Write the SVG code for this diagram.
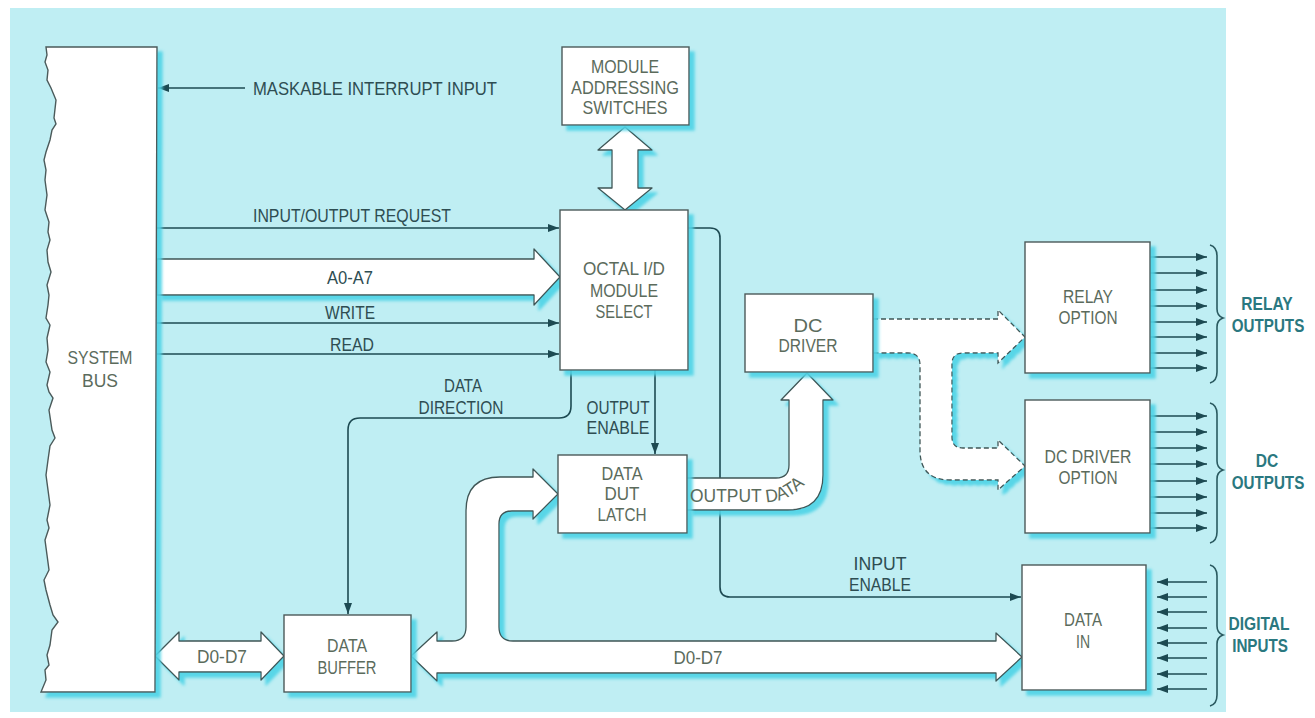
<svg xmlns="http://www.w3.org/2000/svg" width="1315" height="718" viewBox="0 0 1315 718">
<defs>
<style>
.box{fill:#fff;stroke:#4b5a5a;stroke-width:1.4}
.band{fill:#fff;stroke:#3f5656;stroke-width:1.3;stroke-linejoin:round}
.dash{fill:#fff;stroke:#3f5656;stroke-width:1.3;stroke-dasharray:5 3}
.ln{fill:none;stroke:#1d4a52;stroke-width:1.6}
.nt{font-family:"Liberation Sans",Arial,sans-serif;font-size:19px;fill:#5b6b5c;text-anchor:middle}
.ct{font-family:"Liberation Sans",Arial,sans-serif;font-size:19px;fill:#2e4d52;text-anchor:middle}
.rt{font-family:"Liberation Sans",Arial,sans-serif;font-size:19px;font-weight:bold;fill:#2a7880;text-anchor:middle}
.br{fill:none;stroke:#2a5a60;stroke-width:1.6}
</style>
<filter id="sh" x="-10%" y="-10%" width="130%" height="130%">
<feDropShadow dx="5" dy="5" stdDeviation="1.5" flood-color="#4dd3e6" flood-opacity="0.9"/>
</filter>
<marker id="ah" markerUnits="userSpaceOnUse" markerWidth="11" markerHeight="8" refX="11" refY="4" orient="auto">
<path d="M0,0 L11,4 L0,8 z" fill="#1d4a52"/>
</marker>
</defs>
<rect x="0" y="0" width="1315" height="718" fill="#ffffff"/>
<rect x="10" y="8" width="1216" height="704" fill="#bfeef3"/>

<g id="connectors">
<line class="ln" x1="245" y1="88" x2="158" y2="88" marker-end="url(#ah)"/>
<line class="ln" x1="157" y1="228" x2="559" y2="228" marker-end="url(#ah)"/>
<line class="ln" x1="157" y1="323" x2="559" y2="323" marker-end="url(#ah)"/>
<line class="ln" x1="157" y1="354" x2="559" y2="354" marker-end="url(#ah)"/>
<path class="ln" d="M688 228 L710 228 Q720 228 720 238 L720 587 Q720 597 730 597 L1021 597" marker-end="url(#ah)"/>
<path class="ln" d="M571 370 L571 406 Q571 418 559 418 L360 418 Q348 418 348 430 L348 614" marker-end="url(#ah)"/>
<line class="ln" x1="655" y1="370" x2="655" y2="454" marker-end="url(#ah)"/>
<g id="relay-outs">
<line class="ln" x1="1150" y1="257" x2="1207" y2="257" marker-end="url(#ah)"/>
<line class="ln" x1="1150" y1="273" x2="1207" y2="273" marker-end="url(#ah)"/>
<line class="ln" x1="1150" y1="290" x2="1207" y2="290" marker-end="url(#ah)"/>
<line class="ln" x1="1150" y1="306" x2="1207" y2="306" marker-end="url(#ah)"/>
<line class="ln" x1="1150" y1="322" x2="1207" y2="322" marker-end="url(#ah)"/>
<line class="ln" x1="1150" y1="337" x2="1207" y2="337" marker-end="url(#ah)"/>
<line class="ln" x1="1150" y1="353" x2="1207" y2="353" marker-end="url(#ah)"/>
<line class="ln" x1="1150" y1="368" x2="1207" y2="368" marker-end="url(#ah)"/>
</g>
<g id="dc-outs">
<line class="ln" x1="1150" y1="416" x2="1207" y2="416" marker-end="url(#ah)"/>
<line class="ln" x1="1150" y1="432" x2="1207" y2="432" marker-end="url(#ah)"/>
<line class="ln" x1="1150" y1="448" x2="1207" y2="448" marker-end="url(#ah)"/>
<line class="ln" x1="1150" y1="464" x2="1207" y2="464" marker-end="url(#ah)"/>
<line class="ln" x1="1150" y1="481" x2="1207" y2="481" marker-end="url(#ah)"/>
<line class="ln" x1="1150" y1="497" x2="1207" y2="497" marker-end="url(#ah)"/>
<line class="ln" x1="1150" y1="513" x2="1207" y2="513" marker-end="url(#ah)"/>
<line class="ln" x1="1150" y1="528" x2="1207" y2="528" marker-end="url(#ah)"/>
</g>
<g id="digital-ins">
<line class="ln" x1="1207" y1="582" x2="1157" y2="582" marker-end="url(#ah)"/>
<line class="ln" x1="1207" y1="597" x2="1157" y2="597" marker-end="url(#ah)"/>
<line class="ln" x1="1207" y1="612" x2="1157" y2="612" marker-end="url(#ah)"/>
<line class="ln" x1="1207" y1="628" x2="1157" y2="628" marker-end="url(#ah)"/>
<line class="ln" x1="1207" y1="643" x2="1157" y2="643" marker-end="url(#ah)"/>
<line class="ln" x1="1207" y1="658" x2="1157" y2="658" marker-end="url(#ah)"/>
<line class="ln" x1="1207" y1="674" x2="1157" y2="674" marker-end="url(#ah)"/>
<line class="ln" x1="1207" y1="689" x2="1157" y2="689" marker-end="url(#ah)"/>
</g>
<path class="br" d="M1210 245 Q1217 247 1217 256 L1217 309 Q1217 316 1223 318 Q1217 320 1217 327 L1217 372 Q1217 381 1210 383"/>
<path class="br" d="M1210 403 Q1217 405 1217 414 L1217 461 Q1217 468 1223 470 Q1217 472 1217 479 L1217 532 Q1217 541 1210 543"/>
<path class="br" d="M1210 565 Q1217 567 1217 576 L1217 626 Q1217 633 1223 635 Q1217 637 1217 644 L1217 695 Q1217 704 1210 706"/>

<g filter="url(#sh)">
<path class="band" d="M157 259 L534 259 L534 249 L560 277 L534 305 L534 295 L157 295 Z"/>
<path class="band" d="M625 127 L652 150 L638 150 L638 188 L652 188 L625 210 L598 188 L612 188 L612 150 L598 150 Z"/>
<path class="band" d="M155 656 L179 632 L179 641 L261 641 L261 632 L284 656 L261 680 L261 672 L179 672 L179 680 Z"/>
<path class="band" d="M411 656 L437 632 L437 641 L452 641 Q466 641 466 627 L466 511 Q466 477 500 477 L533 477 L533 469 L558 494 L533 519 L533 511 L512 511 Q499 511 499 524 L499 627 Q499 641 513 641 L996 641 L996 633 L1022 657 L996 681 L996 673 L437 673 L437 681 Z"/>
<path class="band" d="M687 478 L776 478 Q789 478 789 465 L789 400 L781 400 L807 373 L833 400 L823 400 L823 475 Q823 510 788 510 L687 510"/>
<path class="dash" d="M873 319 L998 319 L998 310 L1025 337 L998 363 L998 353 L963 353 Q952 353 952 364 L952 437 Q952 448 963 448 L998 448 L998 440 L1025 466 L998 490 L998 480 L950 480 Q920 480 920 450 L920 365 Q920 353 908 353 L873 353"/>
</g>
</g>

<g id="system-bus">
<path class="box" filter="url(#sh)" d="M46 47 L157 47 L155 692 L41 692 L46 680 L45 670 L49 665 L47 655 L50 645 L52 630 L58 622 L53 615 L50 605 L46 590 L44 580 L49 570 L47 555 L45 540 L49 528 L47 520 L50 505 L48 490 L46 475 L48 460 L50 446 L55 438 L52 430 L49 410 L53 398 L49 392 L47 385 L50 372 L46 362 L48 350 L47 338 L50 325 L46 318 L48 305 L49 295 L47 285 L51 272 L48 262 L47 250 L50 240 L48 232 L49 222 L45 210 L47 195 L45 180 L46 170 L44 160 L46 152 L50 140 L52 130 L56 124 L54 118 L56 100 L51 88 L47 80 L48 70 L45 62 L47 55 Z"/>
<text class="nt" x="100" y="364" textLength="65" lengthAdjust="spacingAndGlyphs">SYSTEM</text>
<text class="nt" x="100" y="387" textLength="36" lengthAdjust="spacingAndGlyphs">BUS</text>
</g>

<g id="module-addressing">
<rect class="box" filter="url(#sh)" x="562" y="47" width="127" height="78"/>
<text class="nt" x="625" y="73" textLength="68" lengthAdjust="spacingAndGlyphs">MODULE</text>
<text class="nt" x="625" y="94" textLength="108" lengthAdjust="spacingAndGlyphs">ADDRESSING</text>
<text class="nt" x="625" y="114" textLength="85" lengthAdjust="spacingAndGlyphs">SWITCHES</text>
</g>

<g id="octal-select">
<rect class="box" filter="url(#sh)" x="560" y="210" width="128" height="160"/>
<text class="nt" x="624" y="275" textLength="82" lengthAdjust="spacingAndGlyphs">OCTAL I/D</text>
<text class="nt" x="624" y="297" textLength="68" lengthAdjust="spacingAndGlyphs">MODULE</text>
<text class="nt" x="624" y="318" textLength="57" lengthAdjust="spacingAndGlyphs">SELECT</text>
</g>

<g id="data-out-latch">
<rect class="box" filter="url(#sh)" x="558" y="455" width="129" height="78"/>
<text class="nt" x="622" y="480" textLength="41" lengthAdjust="spacingAndGlyphs">DATA</text>
<text class="nt" x="622" y="500" textLength="35" lengthAdjust="spacingAndGlyphs">DUT</text>
<text class="nt" x="622" y="521" textLength="49" lengthAdjust="spacingAndGlyphs">LATCH</text>
</g>

<g id="dc-driver">
<rect class="box" filter="url(#sh)" x="745" y="294" width="128" height="78"/>
<text class="nt" x="808" y="332" textLength="29" lengthAdjust="spacingAndGlyphs">DC</text>
<text class="nt" x="808" y="352" textLength="59" lengthAdjust="spacingAndGlyphs">DRIVER</text>
</g>

<g id="relay-option">
<rect class="box" filter="url(#sh)" x="1025" y="242" width="125" height="131"/>
<text class="nt" x="1088" y="303" textLength="50" lengthAdjust="spacingAndGlyphs">RELAY</text>
<text class="nt" x="1088" y="324" textLength="59" lengthAdjust="spacingAndGlyphs">OPTION</text>
</g>

<g id="dc-driver-option">
<rect class="box" filter="url(#sh)" x="1025" y="400" width="125" height="133"/>
<text class="nt" x="1088" y="463" textLength="87" lengthAdjust="spacingAndGlyphs">DC DRIVER</text>
<text class="nt" x="1088" y="484" textLength="59" lengthAdjust="spacingAndGlyphs">OPTION</text>
</g>

<g id="data-in">
<rect class="box" filter="url(#sh)" x="1022" y="565" width="124" height="125"/>
<text class="nt" x="1083" y="626" textLength="38" lengthAdjust="spacingAndGlyphs">DATA</text>
<text class="nt" x="1083" y="648" textLength="14" lengthAdjust="spacingAndGlyphs">IN</text>
</g>

<g id="data-buffer">
<rect class="box" filter="url(#sh)" x="284" y="615" width="127" height="77"/>
<text class="nt" x="347" y="652" textLength="40" lengthAdjust="spacingAndGlyphs">DATA</text>
<text class="nt" x="347" y="674" textLength="59" lengthAdjust="spacingAndGlyphs">BUFFER</text>
</g>

<g id="labels">
<text class="ct" x="375" y="95" textLength="244" lengthAdjust="spacingAndGlyphs">MASKABLE INTERRUPT INPUT</text>
<text class="ct" x="352" y="222" textLength="198" lengthAdjust="spacingAndGlyphs">INPUT/OUTPUT REQUEST</text>
<text class="ct" x="350" y="284" textLength="46" lengthAdjust="spacingAndGlyphs">A0-A7</text>
<text class="ct" x="350" y="319" textLength="50" lengthAdjust="spacingAndGlyphs">WRITE</text>
<text class="ct" x="352" y="351" textLength="44" lengthAdjust="spacingAndGlyphs">READ</text>
<text class="ct" x="463" y="392" textLength="38" lengthAdjust="spacingAndGlyphs">DATA</text>
<text class="ct" x="461" y="414" textLength="85" lengthAdjust="spacingAndGlyphs">DIRECTION</text>
<text class="ct" x="618" y="414" textLength="63" lengthAdjust="spacingAndGlyphs">OUTPUT</text>
<text class="ct" x="618" y="434" textLength="63" lengthAdjust="spacingAndGlyphs">ENABLE</text>
<text class="ct" x="880" y="570" textLength="53" lengthAdjust="spacingAndGlyphs">INPUT</text>
<text class="ct" x="880" y="591" textLength="62" lengthAdjust="spacingAndGlyphs">ENABLE</text>
<text class="nt" x="222" y="663" textLength="50" lengthAdjust="spacingAndGlyphs">D0-D7</text>
<text class="nt" x="698" y="664" textLength="49" lengthAdjust="spacingAndGlyphs">D0-D7</text>
<path id="odp" d="M690 502 L768 502 Q792 501 812 477" fill="none"/>
<text style="font-family:'Liberation Sans',Arial,sans-serif;font-size:18px;fill:#5b6b5c"><textPath href="#odp" textLength="120" lengthAdjust="spacingAndGlyphs">OUTPUT DATA</textPath></text>
<text class="rt" transform="translate(1267 310) scale(0.82 1)" x="0" y="0">RELAY</text>
<text class="rt" transform="translate(1268 332) scale(0.8 1)" x="0" y="0">OUTPUTS</text>
<text class="rt" transform="translate(1267 467) scale(0.82 1)" x="0" y="0">DC</text>
<text class="rt" transform="translate(1268 489) scale(0.8 1)" x="0" y="0">OUTPUTS</text>
<text class="rt" transform="translate(1259 630) scale(0.82 1)" x="0" y="0">DIGITAL</text>
<text class="rt" transform="translate(1260 652) scale(0.8 1)" x="0" y="0">INPUTS</text>
</g>
</svg>
